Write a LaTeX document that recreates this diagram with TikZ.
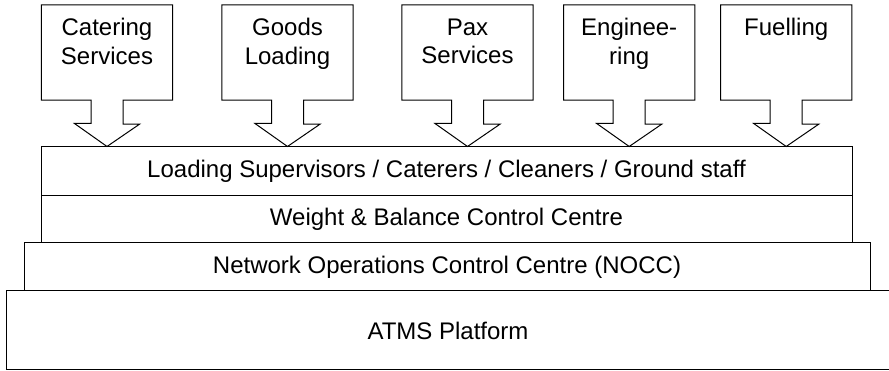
\documentclass[tikz,border=0pt]{standalone}
\usepackage{fontspec}
\setmainfont{Liberation Sans}
\usetikzlibrary{positioning}

\begin{document}
\begin{tikzpicture}[x=1pt, y=1pt,
  srcbox/.style={minimum width=131pt, minimum height=95pt, inner sep=0pt},
  srctext/.style={anchor=north, align=center, inner sep=0pt, font=\fontsize{24}{28.8}\selectfont},
  layer/.style={draw, line width=1pt, inner sep=0pt, font=\fontsize{24}{28.8}\selectfont},
  outline/.style={draw, line width=1pt, line join=miter}]
  \useasboundingbox (0,0) rectangle (889,371);
  % platform layers, bottom up
  \node[layer, minimum width=884pt, minimum height=79pt] (atms) at (448,40.5) {ATMS Platform};
  \node[layer, minimum width=846pt, minimum height=48pt] (nocc) at (447,104) {Network Operations Control Centre (NOCC)};
  \node[layer, minimum width=811pt, minimum height=47pt] (wb) at (446.5,151.5) {Weight \& Balance Control Centre};
  \node[layer, minimum width=811pt, minimum height=49pt] (load) at (446.5,199.5) {Loading Supervisors / Caterers / Cleaners / Ground staff};
  % service boxes with their block arrows
  \foreach \name/\x/\txt in {cat/107/{Catering\\Services}, goods/287.5/{Goods\\Loading},
      pax/467.5/{Pax\\Services}, eng/629.2/{Enginee-\\ring}, fuel/786.2/{Fuelling}} {
    \node[srcbox] (\name) at (\x,318.5) {};
    \node[srctext] (\name-t) at ([yshift=-13.5pt]\name.north) {\txt};
    \draw[outline] ([xshift=-16pt]\name.south) -| (\name.north west) -| (\name.south east)
      -- ([xshift=16pt]\name.south) -- ++(0,-24) -- ++(16.5,0) -- (\name.south |- load.north)
      -- ++(-32.5,23) -- ++(16.5,0) -- cycle;
  }
\end{tikzpicture}
\end{document}
